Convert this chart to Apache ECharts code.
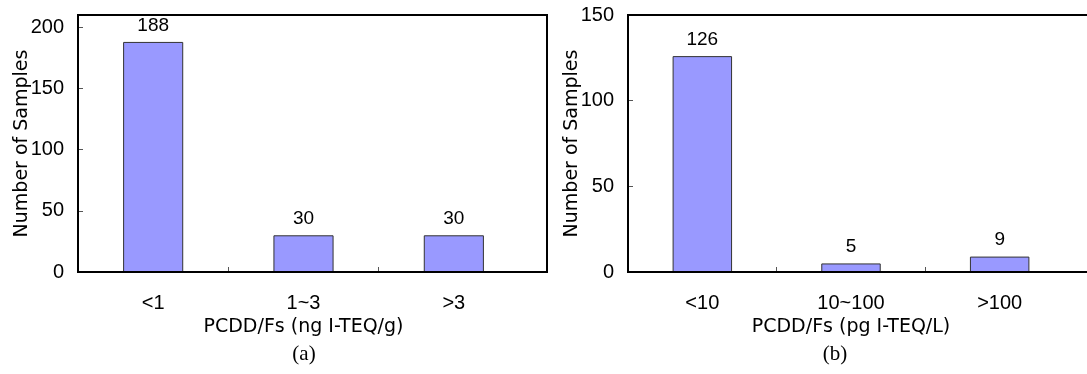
<!DOCTYPE html>
<html>
<head>
<meta charset="utf-8">
<script src="https://cdn.jsdelivr.net/npm/echarts@6/dist/echarts.min.js"></script>
<style>
html,body{margin:0;padding:0;background:#fff;}
#c{width:1087px;height:374px;}
</style>
</head>
<body>
<div id="c"></div>
<script>
// Data
const catsA = ['<1', '1~3', '>3'];
const valsA = [188, 30, 30];
const catsB = ['<10', '10~100', '>100'];
const valsB = [126, 5, 9];
const yTicksA = [0, 50, 100, 150, 200];
const yTicksB = [0, 50, 100, 150];
const xNameA = 'PCDD/Fs (ng I-TEQ/g)';
const xNameB = 'PCDD/Fs (pg I-TEQ/L)';
const yName = 'Number of Samples';
const captionA = '(a)';
const captionB = '(b)';

const numFont = 'Liberation Sans, Arial, sans-serif';
const nameFont = 'DejaVu Sans, sans-serif';

function yAxis(gridIndex, max, ticks) {
  return {
    type: 'value', gridIndex: gridIndex, min: 0, max: max, interval: 50,
    name: yName, nameLocation: 'middle', nameGap: 46, nameMoveOverlap: false,
    nameTextStyle: {fontFamily: nameFont, fontSize: 19, color: '#000'},
    axisLine: {show: true, lineStyle: {color: '#000', width: 2}},
    axisTick: {show: true, inside: true, length: 5, lineStyle: {color: '#555'},
      customValues: ticks},
    axisLabel: {margin: 14, fontFamily: numFont, fontSize: 20, color: '#000',
      customValues: ticks},
    splitLine: {show: false}
  };
}
function xAxis(gridIndex, cats, name) {
  return {
    type: 'category', gridIndex: gridIndex, data: cats, position: 'bottom',
    name: name, nameLocation: 'middle', nameGap: 45,
    nameTextStyle: {fontFamily: nameFont, fontSize: 19, color: '#000'},
    axisLine: {show: true, lineStyle: {color: '#000', width: 2}},
    axisTick: {show: false},
    axisLabel: {margin: 21, fontFamily: numFont, fontSize: 20, color: '#000'},
    splitLine: {show: false}
  };
}
// hidden helper axis giving the inner category-boundary ticks
function boundaryAxis(gridIndex, n) {
  const b = [];
  for (let i = 1; i < n; i++) b.push(i);
  return {
    type: 'value', gridIndex: gridIndex, position: 'bottom', min: 0, max: n,
    axisLine: {show: false},
    axisTick: {show: true, inside: true, length: 5, lineStyle: {color: '#555'}, customValues: b},
    axisLabel: {show: false},
    splitLine: {show: false}
  };
}
function barSeries(idx, vals) {
  return {
    type: 'bar', xAxisIndex: idx, yAxisIndex: idx, data: vals,
    barWidth: '40%',
    itemStyle: {color: '#9999FF', borderColor: '#333', borderWidth: 1},
    label: {show: true, position: 'top', distance: 7, fontFamily: numFont, fontSize: 19, color: '#000'},
    animation: false
  };
}

const chart = echarts.init(document.getElementById('c'), null, {renderer: 'canvas'});
chart.setOption({
  animation: false,
  backgroundColor: '#fff',
  grid: [
    {left: 78, top: 15, width: 451, height: 257},
    {left: 628, top: 15, width: 446, height: 257}
  ],
  xAxis: [xAxis(0, catsA, xNameA), xAxis(1, catsB, xNameB),
          boundaryAxis(0, catsA.length), boundaryAxis(1, catsB.length)],
  yAxis: [yAxis(0, 210, yTicksA), yAxis(1, 150, yTicksB)],
  series: [barSeries(0, valsA), barSeries(1, valsB)],
  graphic: [
    {type: 'rect', shape: {x: 78, y: 15, width: 469, height: 257}, style: {fill: 'none', stroke: '#000', lineWidth: 2}, z: 100},
    {type: 'rect', shape: {x: 628, y: 15, width: 480, height: 257}, style: {fill: 'none', stroke: '#000', lineWidth: 2}, z: 100},
    {type: 'text', x: 304, y: 354, style: {text: captionA, font: '21px "Liberation Serif", serif', fill: '#000', textAlign: 'center', textVerticalAlign: 'middle'}},
    {type: 'text', x: 835, y: 354, style: {text: captionB, font: '21px "Liberation Serif", serif', fill: '#000', textAlign: 'center', textVerticalAlign: 'middle'}}
  ]
});
</script>
</body>
</html>
